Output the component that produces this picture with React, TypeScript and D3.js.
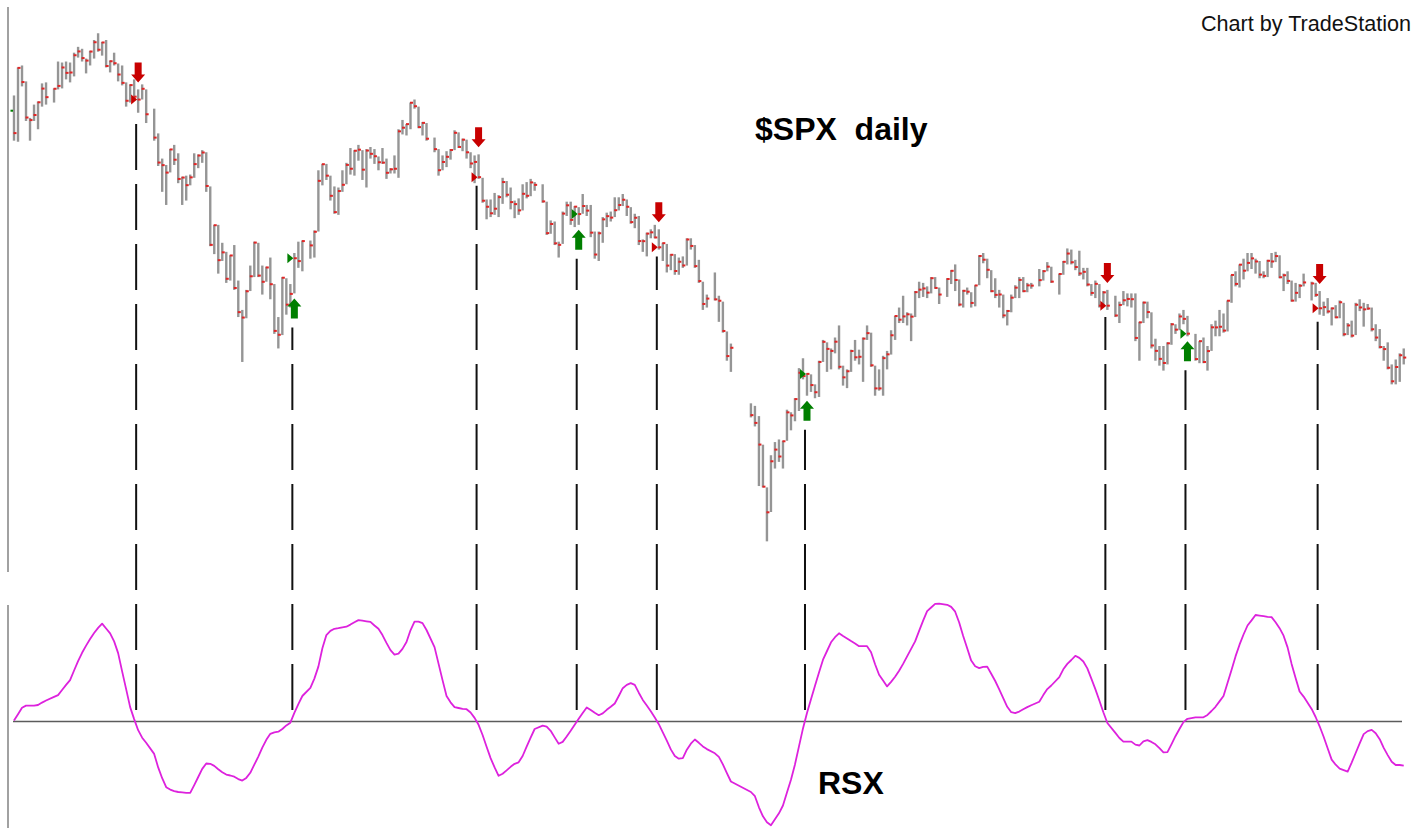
import * as d3 from 'd3';

// $SPX daily, 2001-01-02 .. 2002-05-02, with the RSX oscillator below.
// The x axis runs on weekdays, so market holidays leave an empty slot.
const START = '2001-01-02';
const END = '2002-05-02';
const HOLIDAYS = [
  '2001-01-15', '2001-02-19', '2001-04-13', '2001-05-28', '2001-07-04', '2001-09-03',
  '2001-09-11', '2001-09-12', '2001-09-13', '2001-09-14', '2001-11-22', '2001-12-25',
  '2002-01-01', '2002-01-21', '2002-02-18', '2002-03-29',
];

// one value per trading day, month by month
const highs = [
  1320, 1348, 1350, 1334, 1298, 1311, 1314, 1332, 1333, 1327, 1354, 1353, 1354, 1353, 1363, 1369, 1367, 1357, 1365, 1376, 1383,
  1374, 1376, 1355, 1363, 1352, 1350, 1333, 1331, 1336, 1326, 1331, 1326, 1307, 1283, 1259, 1253, 1268, 1272, 1264,
  1242, 1243, 1244, 1264, 1263, 1267, 1265, 1233, 1198, 1198, 1182, 1174, 1171, 1180, 1149, 1124, 1141, 1162, 1183, 1182, 1162, 1161,
  1169, 1146, 1118, 1152, 1151, 1146, 1173, 1183, 1184, 1184, 1193, 1248, 1254, 1254, 1243, 1233, 1232, 1248, 1255, 1269,
  1267, 1272, 1267, 1268, 1270, 1268, 1261, 1269, 1259, 1250, 1262, 1287, 1296, 1292, 1313, 1316, 1309, 1294, 1293, 1279, 1268, 1262,
  1266, 1268, 1286, 1284, 1278, 1277, 1265, 1262, 1263, 1241, 1221, 1221, 1227, 1225, 1241, 1238, 1232, 1220, 1222, 1235, 1237,
  1240, 1237, 1235, 1219, 1202, 1201, 1183, 1210, 1219, 1219, 1215, 1214, 1226, 1216, 1216, 1192, 1192, 1205, 1209, 1210, 1223,
  1223, 1226, 1221, 1214, 1208, 1206, 1185, 1191, 1194, 1198, 1194, 1182, 1181, 1172, 1172, 1169, 1170, 1186, 1186, 1180, 1167, 1148, 1137,
  1156, 1136, 1131, 1106, 1096, 1048, 1046, 1038, 1016, 984, 1008, 1018, 1020, 1019, 1043,
  1041, 1052, 1076, 1084, 1072, 1071, 1063, 1082, 1099, 1097, 1092, 1101, 1111, 1078, 1075, 1091, 1099, 1091, 1101, 1111, 1105, 1078, 1075,
  1086, 1090, 1107, 1119, 1126, 1136, 1122, 1121, 1140, 1148, 1147, 1144, 1152, 1152, 1143, 1151, 1158, 1163, 1150, 1141, 1143,
  1139, 1145, 1171, 1173, 1168, 1158, 1151, 1141, 1137, 1124, 1137, 1145, 1152, 1152, 1147, 1147, 1159, 1158, 1165, 1161,
  1155, 1166, 1177, 1176, 1167, 1175, 1160, 1160, 1146, 1149, 1146, 1140, 1141, 1136, 1131, 1140, 1138, 1138, 1138, 1114, 1131,
  1131, 1122, 1100, 1094, 1094, 1097, 1113, 1112, 1121, 1124, 1119, 1104, 1098, 1101, 1094, 1112, 1115, 1124, 1121,
  1132, 1154, 1157, 1163, 1168, 1173, 1173, 1168, 1166, 1157, 1167, 1173, 1174, 1171, 1155, 1157, 1149, 1147, 1146, 1155,
  1148, 1147, 1140, 1131, 1134, 1126, 1128, 1132, 1130, 1113, 1115, 1130, 1133, 1130, 1129, 1126, 1112, 1108, 1094, 1097, 1079, 1083,
  1088, 1092,
];

const lows = [
  1276, 1275, 1329, 1295, 1276, 1295, 1287, 1309, 1311, 1313, 1326, 1327, 1336, 1333, 1339, 1358, 1354, 1342, 1350, 1357, 1364,
  1360, 1348, 1343, 1350, 1334, 1330, 1309, 1313, 1316, 1303, 1316, 1293, 1276, 1252, 1228, 1216, 1246, 1253, 1236,
  1216, 1220, 1234, 1241, 1250, 1255, 1228, 1179, 1172, 1155, 1166, 1147, 1149, 1141, 1118, 1081, 1117, 1140, 1152, 1152, 1137, 1148,
  1133, 1104, 1092, 1103, 1120, 1126, 1138, 1160, 1157, 1168, 1169, 1192, 1234, 1239, 1220, 1208, 1207, 1228, 1235, 1244,
  1243, 1257, 1239, 1232, 1259, 1254, 1248, 1254, 1240, 1245, 1245, 1241, 1282, 1281, 1287, 1307, 1288, 1281, 1276, 1265, 1243, 1248,
  1251, 1258, 1267, 1269, 1266, 1259, 1250, 1236, 1240, 1218, 1203, 1205, 1207, 1205, 1217, 1223, 1212, 1204, 1207, 1211, 1222,
  1224, 1229, 1218, 1189, 1190, 1180, 1169, 1181, 1206, 1198, 1196, 1198, 1208, 1206, 1187, 1168, 1166, 1182, 1196, 1201, 1205,
  1211, 1215, 1206, 1199, 1195, 1180, 1174, 1170, 1186, 1186, 1176, 1166, 1156, 1158, 1154, 1154, 1160, 1162, 1176, 1160, 1147, 1124, 1126,
  1132, 1114, 1105, 1082, 1073, 1037, 1030, 985, 984, 945, 966, 998, 1003, 998, 1019,
  1027, 1034, 1042, 1067, 1054, 1057, 1052, 1053, 1081, 1073, 1075, 1088, 1075, 1062, 1060, 1073, 1082, 1079, 1065, 1099, 1077, 1054, 1058,
  1054, 1075, 1087, 1099, 1113, 1113, 1111, 1098, 1118, 1134, 1135, 1134, 1138, 1142, 1129, 1135, 1146, 1140, 1127, 1126, 1137,
  1126, 1127, 1145, 1164, 1151, 1139, 1134, 1126, 1117, 1111, 1122, 1134, 1134, 1139, 1139, 1142, 1144, 1149, 1157, 1147,
  1137, 1154, 1163, 1163, 1158, 1153, 1150, 1144, 1136, 1134, 1126, 1127, 1124, 1118, 1113, 1128, 1127, 1126, 1098, 1082, 1113,
  1117, 1092, 1082, 1078, 1074, 1079, 1095, 1104, 1107, 1112, 1102, 1082, 1080, 1080, 1074, 1090, 1102, 1102, 1105,
  1106, 1130, 1144, 1143, 1150, 1157, 1159, 1155, 1151, 1151, 1152, 1160, 1165, 1151, 1140, 1146, 1131, 1131, 1134, 1144,
  1132, 1135, 1120, 1119, 1121, 1111, 1117, 1117, 1102, 1103, 1101, 1103, 1123, 1110, 1124, 1106, 1098, 1092, 1082, 1075, 1063, 1063,
  1065, 1079,
];

const closes = [
  1283.27, 1347.56, 1333.34, 1298.35, 1295.86, 1300.8, 1313.27, 1326.82, 1318.32, 1326.65, 1329.47, 1347.97, 1342.54, 1342.9, 1360.4, 1364.3, 1357.51, 1354.95, 1364.17, 1373.73, 1366.01,
  1373.47, 1349.47, 1354.31, 1352.26, 1340.89, 1332.53, 1314.76, 1330.31, 1318.8, 1315.92, 1326.61, 1301.53, 1278.94, 1255.27, 1252.82, 1245.86, 1267.65, 1257.94, 1239.94,
  1241.23, 1234.18, 1241.41, 1253.8, 1261.89, 1264.74, 1233.42, 1180.16, 1197.66, 1166.71, 1173.56, 1150.53, 1170.81, 1142.62, 1122.14, 1117.58, 1139.83, 1152.69, 1182.17, 1153.29, 1147.95, 1160.33,
  1145.87, 1106.46, 1103.25, 1151.44, 1128.43, 1137.59, 1168.38, 1165.89, 1183.5, 1179.68, 1191.81, 1238.16, 1253.7, 1242.98, 1224.36, 1209.47, 1228.75, 1234.52, 1253.05, 1249.46,
  1266.44, 1267.43, 1248.58, 1266.61, 1263.51, 1261.2, 1255.54, 1255.18, 1245.67, 1248.92, 1249.44, 1284.99, 1288.49, 1291.96, 1312.83, 1309.38, 1289.05, 1293.17, 1277.89, 1267.93, 1248.08, 1255.82,
  1260.67, 1267.11, 1283.57, 1270.03, 1276.96, 1264.96, 1254.39, 1255.85, 1241.6, 1219.87, 1214.36, 1208.43, 1212.58, 1223.14, 1237.04, 1225.35, 1218.6, 1216.76, 1211.07, 1226.2, 1224.38,
  1236.72, 1234.45, 1219.24, 1190.59, 1198.78, 1181.52, 1180.18, 1208.14, 1215.68, 1202.45, 1214.44, 1207.71, 1215.02, 1210.85, 1191.03, 1171.65, 1190.49, 1202.93, 1205.82, 1204.52, 1211.23,
  1215.93, 1220.75, 1214.35, 1200.48, 1204.4, 1183.53, 1183.43, 1190.16, 1191.29, 1186.73, 1178.02, 1181.66, 1161.97, 1171.41, 1157.26, 1165.31, 1162.09, 1184.93, 1179.21, 1161.51, 1148.56, 1129.03, 1133.58,
  1132.94, 1131.74, 1106.4, 1085.78, 1092.54, 1038.77, 1032.74, 1016.1, 984.54, 965.8, 1003.45, 1012.27, 1007.04, 1018.61, 1040.94,
  1038.55, 1051.33, 1072.28, 1069.63, 1071.38, 1062.44, 1056.75, 1080.99, 1097.43, 1091.65, 1089.98, 1097.54, 1077.09, 1068.61, 1073.48, 1089.9, 1084.78, 1085.2, 1100.09, 1104.61, 1078.3, 1059.79, 1059.78,
  1084.1, 1087.2, 1102.84, 1118.86, 1115.8, 1118.54, 1120.31, 1118.33, 1139.09, 1141.21, 1142.24, 1138.65, 1151.06, 1142.66, 1137.03, 1150.34, 1157.42, 1149.5, 1128.52, 1140.2, 1139.45,
  1129.9, 1144.8, 1170.35, 1167.1, 1158.31, 1139.93, 1136.76, 1137.07, 1119.38, 1123.09, 1134.36, 1142.92, 1149.56, 1139.93, 1144.89, 1144.65, 1149.37, 1157.13, 1161.02, 1148.08,
  1154.67, 1165.27, 1172.51, 1164.89, 1160.71, 1155.14, 1156.55, 1145.6, 1138.41, 1146.19, 1127.57, 1138.88, 1127.58, 1119.31, 1128.18, 1132.15, 1133.28, 1133.06, 1100.64, 1113.57, 1130.2,
  1122.2, 1094.44, 1090.02, 1083.51, 1080.17, 1096.22, 1111.94, 1107.5, 1118.51, 1116.48, 1104.18, 1083.34, 1097.98, 1080.95, 1089.84, 1109.43, 1109.38, 1109.89, 1106.73,
  1131.78, 1153.84, 1146.14, 1162.77, 1157.54, 1164.31, 1168.26, 1165.58, 1154.09, 1153.04, 1166.16, 1165.55, 1170.29, 1151.85, 1153.59, 1148.7, 1131.87, 1138.49, 1144.58, 1147.39,
  1146.54, 1136.76, 1125.4, 1126.34, 1122.73, 1125.29, 1117.8, 1130.47, 1103.69, 1111.01, 1102.55, 1128.37, 1126.07, 1124.47, 1125.17, 1107.83, 1100.96, 1093.14, 1091.48, 1076.32, 1065.45, 1076.92,
  1086.46, 1084.56,
];

const rsx = [
  50.3, 52.4, 54.6, 55.3, 55.3, 55.3, 55.5, 56.3, 57.0, 58.2, 58.8, 60.5, 62.2, 63.8, 67.0, 70.1, 72.9, 75.3, 77.5, 79.5, 81.2,
  82.6, 81.0, 79.4, 76.7, 72.8, 66.7, 60.8, 54.8, 50.8, 47.1, 44.6, 42.9, 39.2, 34.7, 31.1, 28.1, 27.3, 26.8, 26.5,
  26.4, 26.2, 26.2, 28.8, 31.5, 34.2, 36.0, 35.9, 35.2, 34.1, 33.1, 32.3, 32.0, 31.6, 30.8, 30.3, 31.2, 32.9, 35.6, 38.3, 41.3, 43.9,
  45.9, 46.4, 46.6, 47.5, 48.7, 49.6, 52.9, 55.8, 58.5, 61.2, 64.3, 68.3, 74.4, 78.8, 80.2, 80.9, 81.1, 81.4, 81.6, 82.3,
  83.1, 83.8, 83.6, 83.4, 83.2, 82.0, 80.9, 78.8, 76.2, 73.8, 72.3, 72.6, 74.2, 76.5, 80.4, 83.3, 83.3, 82.8, 80.5, 74.8, 69.3, 63.8,
  58.5, 56.4, 54.8, 54.5, 54.2, 54.1, 53.0, 51.2, 48.9, 45.5, 41.6, 37.8, 34.7, 31.9, 32.6, 33.7, 34.9, 35.9, 36.4, 38.5, 41.6,
  44.6, 47.5, 48.6, 48.3, 46.9, 44.7, 42.6, 43.2, 45.0, 46.9, 48.9, 50.9, 52.8, 54.7, 53.8, 52.9, 52.1, 52.7, 53.9, 54.9, 56.0,
  58.5, 61.1, 62.2, 62.8, 62.2, 59.6, 57.2, 55.3, 53.4, 51.3, 49.1, 46.4, 43.6, 40.7, 38.5, 37.6, 37.8, 40.6, 42.6, 44.0, 42.9, 41.7, 40.8,
  39.4, 38.2, 35.7, 32.8, 30.0, 26.5, 25.1, 21.4, 18.4, 16.4, 15.4, 17.4, 19.4, 22.0, 26.3,
  30.6, 35.7, 41.7, 47.7, 52.8, 57.4, 61.9, 66.3, 70.6, 73.5, 76.4, 78.1, 79.4, 78.5, 77.7, 76.8, 76.0, 75.1, 75.1, 75.1, 73.1, 69.1, 65.6,
  63.7, 61.7, 63.2, 64.9, 66.9, 69.2, 71.7, 74.2, 76.7, 80.2, 83.6, 86.8, 88.0, 89.2, 89.3, 88.9, 88.2, 86.6, 83.0, 78.5, 74.4,
  70.3, 68.4, 67.8, 68.2, 68.3, 65.9, 63.5, 60.7, 57.8, 54.9, 53.1, 52.8, 53.3, 54.1, 54.8, 55.4, 56.6, 58.8, 60.8, 62.0,
  64.8, 67.4, 69.2, 70.5, 71.9, 71.2, 70.0, 67.7, 64.3, 60.8, 57.0, 53.1, 49.5, 46.2, 44.5, 43.3, 43.3, 43.3, 42.3, 42.0, 43.4,
  43.8, 43.2, 42.4, 41.1, 39.7, 39.8, 42.4, 45.1, 47.5, 49.8, 50.9, 51.4, 51.4, 51.4, 52.2, 53.5, 54.9, 56.7, 58.5,
  62.8, 67.2, 71.7, 75.6, 79.0, 82.0, 83.7, 85.5, 85.3, 85.1, 84.9, 84.8, 83.1, 81.1, 78.6, 74.7, 69.2, 64.5, 60.0, 58.3,
  54.2, 51.5, 48.4, 44.9, 41.1, 37.3, 35.6, 34.3, 33.8, 33.3, 36.3, 39.5, 42.7, 45.8, 46.8, 47.2, 46.1, 44.1, 41.2, 38.8, 36.6, 35.5,
  35.5, 35.3,
];

// RSX crossings of 50: sell = red down arrow, buy = green up arrow
const signalDates = [
  '2001-02-14', '2001-04-10', '2001-06-13', '2001-07-18', '2001-08-15',
  '2001-10-05', '2002-01-18', '2002-02-15', '2002-04-03',
];
const signalSides = ['sell', 'buy', 'sell', 'buy', 'sell', 'buy', 'sell', 'buy', 'sell'];

const firstOpen = 1305;

const W = 1424;
const H = 828;
const FONT = '"Liberation Sans", Arial, Helvetica, sans-serif';
const RED = '#c80000';
const GREEN = '#007f00';

function weekdays(from: string, to: string): string[] {
  const out: string[] = [];
  const end = Date.parse(to + 'T00:00:00Z');
  for (let t = Date.parse(from + 'T00:00:00Z'); t <= end; t += 86400000) {
    const d = new Date(t);
    const wd = d.getUTCDay();
    if (wd !== 0 && wd !== 6) out.push(d.toISOString().slice(0, 10));
  }
  return out;
}

const slots = weekdays(START, END);
const slotOf = new Map(slots.map((d, i) => [d, i]));
const tradingDays = slots.filter((d) => !HOLIDAYS.includes(d));

const bars = tradingDays.map((date, k) => ({
  date,
  slot: slotOf.get(date) as number,
  high: highs[k],
  low: lows[k],
  close: closes[k],
  rsx: rsx[k],
}));
const barOf = new Map(bars.map((b) => [b.date, b]));

const x = d3
  .scaleLinear()
  .domain([0, slots.length - 1])
  .range([14, 14 + (slots.length - 1) * 4.005]);

const y = d3.scaleLog().domain([944.75, 1383.37]).range([541.7, 32.9]);

const yR = d3.scaleLinear().domain([0, 100]).range([871.5, 571.5]);

const rsxLine = d3
  .line<(typeof bars)[number]>()
  .x((b) => x(b.slot))
  .y((b) => yR(b.rsx));

const DASH_END = 716;

export default function App() {
  const mid = yR(50);

  return (
    <div style={{ position: 'fixed', left: 0, top: 0, width: W, height: H, background: '#fff' }}>
      <svg width={W} height={H} style={{ display: 'block' }}>
        <rect width={W} height={H} fill="#fff" />

        {/* panel frames */}
        <line x1={8} x2={8} y1={7} y2={572} stroke="#8a8a8a" strokeWidth={1.6} />
        <line x1={8} x2={8} y1={605} y2={H} stroke="#8a8a8a" strokeWidth={1.6} />
        <line x1={13} x2={1402} y1={mid} y2={mid} stroke="#5c5c5c" strokeWidth={1.7} />

        {/* signal verticals */}
        {signalDates.map((d, i) => {
          const b = barOf.get(d)!;
          const buy = signalSides[i] === 'buy';
          const top = y(b.low) + (buy ? 34 : 7);
          const offset = (((top - 4) % 60) + 60) % 60;
          return (
            <line
              key={'v' + d}
              x1={x(b.slot) - 2}
              x2={x(b.slot) - 2}
              y1={top}
              y2={DASH_END}
              stroke="#111"
              strokeWidth={2}
              strokeDasharray="46 14"
              strokeDashoffset={offset}
            />
          );
        })}

        {/* OHLC bars (high-low with a close tick) */}
        <g>
          {bars.map((b) => (
            <line
              key={b.date}
              x1={x(b.slot)}
              x2={x(b.slot)}
              y1={y(b.high)}
              y2={y(b.low)}
              stroke="#959595"
              strokeWidth={2.4}
            />
          ))}
        </g>
        <g fill="#e02626">
          {bars.map((b) => (
            <rect key={'c' + b.date} x={x(b.slot) - 0.5} y={y(b.close) - 1} width={3} height={2} />
          ))}
        </g>
        <rect x={x(0) - 3.5} y={y(firstOpen) - 1} width={2.5} height={2} fill={GREEN} />

        {/* signal markers */}
        {signalDates.map((d, i) => {
          const b = barOf.get(d)!;
          const buy = signalSides[i] === 'buy';
          const cx = x(b.slot);
          const col = buy ? GREEN : RED;
          const yc = y(b.close);
          const tri = `M${cx - 1},${yc} L${cx - 7},${yc - 5} L${cx - 7},${yc + 5} Z`;
          let arrow: string;
          if (buy) {
            const t = y(b.low) + 5;
            arrow = `M${cx},${t} L${cx + 7},${t + 8} H${cx + 3.5} V${t + 20} H${cx - 3.5} V${t + 8} H${cx - 7} Z`;
          } else {
            const t = y(b.high) - 7;
            arrow = `M${cx},${t} L${cx + 7},${t - 8} H${cx + 3.5} V${t - 20} H${cx - 3.5} V${t - 8} H${cx - 7} Z`;
          }
          return (
            <g key={'m' + d} fill={col}>
              <path d={tri} />
              <path d={arrow} />
            </g>
          );
        })}

        {/* RSX */}
        <path d={rsxLine(bars) ?? ''} fill="none" stroke="#dd22dd" strokeWidth={1.8} strokeLinejoin="round" />

        <text x={755} y={140} fontFamily={FONT} fontWeight="bold" fontSize={32} fill="#000" style={{ whiteSpace: 'pre' }}>
          {'$SPX  daily'}
        </text>
        <text x={818} y={794} fontFamily={FONT} fontWeight="bold" fontSize={32} fill="#000">
          RSX
        </text>
        <text x={1201} y={31} fontFamily={FONT} fontSize={21.6} fill="#111">
          Chart by TradeStation
        </text>
      </svg>
    </div>
  );
}
